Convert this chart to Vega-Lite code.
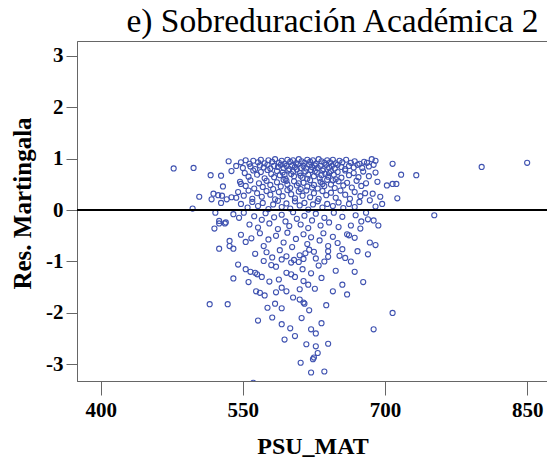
{
  "$schema": "https://vega.github.io/schema/vega-lite/v6.json",
  "width": 471,
  "height": 340,
  "autosize": {"type": "none"},
  "padding": {"left": 77, "top": 41, "right": 0, "bottom": 82},
  "background": "white",
  "title": {"text": "e) Sobreduración Académica 2", "font": "Liberation Serif", "fontSize": 33.5, "fontWeight": "normal", "color": "black", "anchor": "middle", "dx": 20, "offset": 2},
  "config": {"view": {"stroke": "#666666", "strokeWidth": 1}},
  "data": {"values": [
    {"psu": 535, "res": 0.95}, {"psu": 548, "res": 0.93}, {"psu": 553, "res": 0.97}, {"psu": 557, "res": 0.9}, {"psu": 561, "res": 0.96}, {"psu": 566, "res": 0.93}, {"psu": 569, "res": 0.98}, {"psu": 573, "res": 0.91}, {"psu": 577, "res": 0.97}, {"psu": 581, "res": 0.94}, {"psu": 584, "res": 0.99}, {"psu": 588, "res": 0.92}, {"psu": 591, "res": 0.96}, {"psu": 594, "res": 0.9}, {"psu": 597, "res": 0.98}, {"psu": 600, "res": 0.94}, {"psu": 603, "res": 0.97}, {"psu": 606, "res": 0.91}, {"psu": 609, "res": 0.99}, {"psu": 612, "res": 0.95}, {"psu": 615, "res": 0.92}, {"psu": 618, "res": 0.98}, {"psu": 621, "res": 0.94}, {"psu": 624, "res": 0.97}, {"psu": 627, "res": 0.9}, {"psu": 630, "res": 0.99}, {"psu": 633, "res": 0.95}, {"psu": 636, "res": 0.92}, {"psu": 639, "res": 0.97}, {"psu": 642, "res": 0.93}, {"psu": 645, "res": 0.98}, {"psu": 648, "res": 0.91}, {"psu": 652, "res": 0.96}, {"psu": 655, "res": 0.93}, {"psu": 659, "res": 0.98}, {"psu": 664, "res": 0.92}, {"psu": 668, "res": 0.95}, {"psu": 673, "res": 0.9}, {"psu": 678, "res": 0.94}, {"psu": 681, "res": 0.92}, {"psu": 686, "res": 0.99}, {"psu": 690, "res": 0.96},
    {"psu": 543, "res": 0.86}, {"psu": 550, "res": 0.82}, {"psu": 558, "res": 0.85}, {"psu": 563, "res": 0.8}, {"psu": 568, "res": 0.87}, {"psu": 572, "res": 0.83}, {"psu": 576, "res": 0.88}, {"psu": 579, "res": 0.81}, {"psu": 583, "res": 0.86}, {"psu": 587, "res": 0.84}, {"psu": 590, "res": 0.88}, {"psu": 593, "res": 0.82}, {"psu": 596, "res": 0.86}, {"psu": 599, "res": 0.8}, {"psu": 602, "res": 0.87}, {"psu": 605, "res": 0.84}, {"psu": 608, "res": 0.89}, {"psu": 611, "res": 0.82}, {"psu": 614, "res": 0.86}, {"psu": 617, "res": 0.81}, {"psu": 620, "res": 0.88}, {"psu": 623, "res": 0.84}, {"psu": 626, "res": 0.87}, {"psu": 629, "res": 0.82}, {"psu": 632, "res": 0.86}, {"psu": 635, "res": 0.8}, {"psu": 638, "res": 0.88}, {"psu": 641, "res": 0.83}, {"psu": 644, "res": 0.86}, {"psu": 647, "res": 0.81}, {"psu": 650, "res": 0.88}, {"psu": 654, "res": 0.84}, {"psu": 658, "res": 0.8}, {"psu": 662, "res": 0.86}, {"psu": 667, "res": 0.83}, {"psu": 671, "res": 0.88}, {"psu": 676, "res": 0.82}, {"psu": 683, "res": 0.85}, {"psu": 688, "res": 0.88},
    {"psu": 552, "res": 0.72}, {"psu": 556, "res": 0.65}, {"psu": 561, "res": 0.77}, {"psu": 565, "res": 0.69}, {"psu": 569, "res": 0.74}, {"psu": 573, "res": 0.62}, {"psu": 576, "res": 0.78}, {"psu": 580, "res": 0.7}, {"psu": 583, "res": 0.64}, {"psu": 586, "res": 0.76}, {"psu": 589, "res": 0.68}, {"psu": 592, "res": 0.73}, {"psu": 595, "res": 0.61}, {"psu": 598, "res": 0.77}, {"psu": 601, "res": 0.7}, {"psu": 604, "res": 0.66}, {"psu": 607, "res": 0.79}, {"psu": 610, "res": 0.72}, {"psu": 613, "res": 0.63}, {"psu": 616, "res": 0.75}, {"psu": 619, "res": 0.69}, {"psu": 622, "res": 0.78}, {"psu": 625, "res": 0.66}, {"psu": 628, "res": 0.73}, {"psu": 631, "res": 0.62}, {"psu": 634, "res": 0.77}, {"psu": 637, "res": 0.7}, {"psu": 640, "res": 0.65}, {"psu": 643, "res": 0.76}, {"psu": 646, "res": 0.69}, {"psu": 650, "res": 0.74}, {"psu": 654, "res": 0.63}, {"psu": 658, "res": 0.77}, {"psu": 662, "res": 0.68}, {"psu": 667, "res": 0.72}, {"psu": 672, "res": 0.64}, {"psu": 677, "res": 0.75}, {"psu": 683, "res": 0.66},
    {"psu": 594, "res": 0.69}, {"psu": 603, "res": 0.75}, {"psu": 611, "res": 0.67}, {"psu": 618, "res": 0.61}, {"psu": 626, "res": 0.76}, {"psu": 633, "res": 0.68}, {"psu": 641, "res": 0.72}, {"psu": 648, "res": 0.6},
    {"psu": 547, "res": 0.55}, {"psu": 553, "res": 0.47}, {"psu": 558, "res": 0.58}, {"psu": 562, "res": 0.42}, {"psu": 567, "res": 0.52}, {"psu": 571, "res": 0.45}, {"psu": 575, "res": 0.57}, {"psu": 579, "res": 0.49}, {"psu": 582, "res": 0.41}, {"psu": 586, "res": 0.54}, {"psu": 590, "res": 0.46}, {"psu": 593, "res": 0.59}, {"psu": 597, "res": 0.5}, {"psu": 600, "res": 0.43}, {"psu": 604, "res": 0.56}, {"psu": 607, "res": 0.48}, {"psu": 611, "res": 0.41}, {"psu": 614, "res": 0.53}, {"psu": 618, "res": 0.46}, {"psu": 621, "res": 0.58}, {"psu": 625, "res": 0.49}, {"psu": 629, "res": 0.42}, {"psu": 632, "res": 0.55}, {"psu": 636, "res": 0.47}, {"psu": 639, "res": 0.59}, {"psu": 643, "res": 0.5}, {"psu": 647, "res": 0.43}, {"psu": 651, "res": 0.56}, {"psu": 656, "res": 0.48}, {"psu": 660, "res": 0.53}, {"psu": 665, "res": 0.44}, {"psu": 670, "res": 0.57}, {"psu": 675, "res": 0.47}, {"psu": 680, "res": 0.52}, {"psu": 692, "res": 0.55},
    {"psu": 596, "res": 0.57}, {"psu": 609, "res": 0.52}, {"psu": 623, "res": 0.44}, {"psu": 634, "res": 0.51}, {"psu": 645, "res": 0.58},
    {"psu": 545, "res": 0.35}, {"psu": 551, "res": 0.28}, {"psu": 556, "res": 0.38}, {"psu": 560, "res": 0.22}, {"psu": 565, "res": 0.33}, {"psu": 570, "res": 0.26}, {"psu": 575, "res": 0.37}, {"psu": 579, "res": 0.3}, {"psu": 584, "res": 0.21}, {"psu": 588, "res": 0.35}, {"psu": 592, "res": 0.27}, {"psu": 597, "res": 0.39}, {"psu": 601, "res": 0.31}, {"psu": 605, "res": 0.23}, {"psu": 609, "res": 0.36}, {"psu": 613, "res": 0.28}, {"psu": 617, "res": 0.38}, {"psu": 621, "res": 0.25}, {"psu": 625, "res": 0.33}, {"psu": 630, "res": 0.22}, {"psu": 634, "res": 0.37}, {"psu": 638, "res": 0.29}, {"psu": 643, "res": 0.34}, {"psu": 648, "res": 0.24}, {"psu": 653, "res": 0.38}, {"psu": 658, "res": 0.3}, {"psu": 663, "res": 0.22}, {"psu": 668, "res": 0.35}, {"psu": 674, "res": 0.27}, {"psu": 679, "res": 0.33}, {"psu": 695, "res": 0.26},
    {"psu": 548, "res": 0.12}, {"psu": 555, "res": 0.05}, {"psu": 560, "res": 0.16}, {"psu": 566, "res": 0.08}, {"psu": 571, "res": 0.14}, {"psu": 577, "res": 0.02}, {"psu": 582, "res": 0.11}, {"psu": 587, "res": 0.18}, {"psu": 591, "res": 0.06}, {"psu": 596, "res": 0.13}, {"psu": 600, "res": 0.03}, {"psu": 605, "res": 0.17}, {"psu": 610, "res": 0.09}, {"psu": 615, "res": 0.14}, {"psu": 619, "res": 0.01}, {"psu": 624, "res": 0.11}, {"psu": 629, "res": 0.17}, {"psu": 634, "res": 0.05}, {"psu": 639, "res": 0.12}, {"psu": 645, "res": 0.08}, {"psu": 651, "res": 0.15}, {"psu": 656, "res": 0.04}, {"psu": 662, "res": 0.12}, {"psu": 668, "res": 0.06}, {"psu": 673, "res": 0.16}, {"psu": 697, "res": 0.12},
    {"psu": 540, "res": -0.08}, {"psu": 546, "res": -0.15}, {"psu": 551, "res": -0.05}, {"psu": 557, "res": -0.28}, {"psu": 562, "res": -0.12}, {"psu": 566, "res": -0.34}, {"psu": 570, "res": -0.19}, {"psu": 574, "res": -0.06}, {"psu": 578, "res": -0.26}, {"psu": 583, "res": -0.14}, {"psu": 587, "res": -0.37}, {"psu": 591, "res": -0.09}, {"psu": 595, "res": -0.22}, {"psu": 599, "res": -0.31}, {"psu": 603, "res": -0.04}, {"psu": 607, "res": -0.17}, {"psu": 611, "res": -0.28}, {"psu": 615, "res": -0.11}, {"psu": 619, "res": -0.35}, {"psu": 623, "res": -0.2}, {"psu": 627, "res": -0.07}, {"psu": 632, "res": -0.3}, {"psu": 636, "res": -0.15}, {"psu": 641, "res": -0.24}, {"psu": 646, "res": -0.05}, {"psu": 651, "res": -0.33}, {"psu": 655, "res": -0.13}, {"psu": 669, "res": -0.1}, {"psu": 675, "res": -0.22}, {"psu": 693, "res": -0.3},
    {"psu": 548, "res": -0.48}, {"psu": 553, "res": -0.62}, {"psu": 559, "res": -0.55}, {"psu": 563, "res": -0.85}, {"psu": 568, "res": -0.45}, {"psu": 572, "res": -0.7}, {"psu": 577, "res": -0.57}, {"psu": 581, "res": -0.92}, {"psu": 585, "res": -0.5}, {"psu": 589, "res": -0.78}, {"psu": 593, "res": -0.63}, {"psu": 597, "res": -0.44}, {"psu": 602, "res": -0.72}, {"psu": 606, "res": -0.56}, {"psu": 610, "res": -0.88}, {"psu": 614, "res": -0.47}, {"psu": 618, "res": -0.66}, {"psu": 622, "res": -0.53}, {"psu": 627, "res": -0.94}, {"psu": 631, "res": -0.59}, {"psu": 635, "res": -0.45}, {"psu": 640, "res": -0.7}, {"psu": 645, "res": -0.52}, {"psu": 650, "res": -0.64}, {"psu": 655, "res": -0.76}, {"psu": 658, "res": -0.93}, {"psu": 575, "res": -0.82}, {"psu": 596, "res": -0.9}, {"psu": 620, "res": -0.77}, {"psu": 604, "res": -0.97},
    {"psu": 556, "res": -1.4}, {"psu": 570, "res": -1.3}, {"psu": 585, "res": -1.1}, {"psu": 588, "res": -1.35}, {"psu": 605, "res": -1.3}, {"psu": 630, "res": -1.08}, {"psu": 633, "res": -1.32}, {"psu": 648, "res": -1.18}, {"psu": 655, "res": -1.45}, {"psu": 603, "res": -1.7}, {"psu": 576, "res": -1.9}, {"psu": 620, "res": -1.95}, {"psu": 638, "res": -1.85}, {"psu": 668, "res": -1.2}, {"psu": 585, "res": -1.6},
    {"psu": 566, "res": -2.15}, {"psu": 600, "res": -2.3}, {"psu": 612, "res": -2.1}, {"psu": 633, "res": -2.2}, {"psu": 605, "res": -2.45}, {"psu": 629, "res": -2.78},
    {"psu": 477, "res": 0.81}, {"psu": 498, "res": 0.82}, {"psu": 516, "res": 0.68}, {"psu": 527, "res": 0.67}, {"psu": 538, "res": 0.76}, {"psu": 529, "res": 0.46}, {"psu": 548, "res": 0.51}, {"psu": 504, "res": 0.26}, {"psu": 497, "res": 0.03}, {"psu": 519, "res": 0.32}, {"psu": 524, "res": 0.29}, {"psu": 528, "res": 0.28}, {"psu": 517, "res": 0.21}, {"psu": 527, "res": 0.14}, {"psu": 533, "res": 0.21}, {"psu": 538, "res": 0.25}, {"psu": 543, "res": 0.24}, {"psu": 521, "res": -0.05}, {"psu": 525, "res": -0.21}, {"psu": 532, "res": -0.24}, {"psu": 520, "res": -0.36}, {"psu": 525, "res": -0.26}, {"psu": 531, "res": -0.26}, {"psu": 525, "res": -0.75}, {"psu": 536, "res": -0.6}, {"psu": 536, "res": -0.7}, {"psu": 540, "res": -0.75}, {"psu": 545, "res": -1.06}, {"psu": 540, "res": -1.33}, {"psu": 553, "res": -1.15}, {"psu": 558, "res": -1.2}, {"psu": 563, "res": -1.22}, {"psu": 565, "res": -1.25}, {"psu": 564, "res": -1.58}, {"psu": 568, "res": -1.61}, {"psu": 573, "res": -1.66}, {"psu": 578, "res": -1.39}, {"psu": 580, "res": -1.07}, {"psu": 572, "res": -0.99}, {"psu": 591, "res": -1.51}, {"psu": 596, "res": -1.58}, {"psu": 596, "res": -1.22}, {"psu": 601, "res": -1.25}, {"psu": 591, "res": -0.96}, {"psu": 601, "res": -1.02},
    {"psu": 708, "res": 0.9}, {"psu": 717, "res": 0.69}, {"psu": 733, "res": 0.68}, {"psu": 702, "res": 0.48}, {"psu": 708, "res": 0.51}, {"psu": 712, "res": 0.51}, {"psu": 713, "res": 0.23}, {"psu": 752, "res": -0.1}, {"psu": 690, "res": 0.73}, {"psu": 687, "res": 0.32}, {"psu": 690, "res": 0.07}, {"psu": 684, "res": 0.19}, {"psu": 682, "res": -0.18}, {"psu": 688, "res": -0.2}, {"psu": 680, "res": -0.05}, {"psu": 802, "res": 0.84}, {"psu": 850, "res": 0.92},
    {"psu": 664, "res": -0.3}, {"psu": 674, "res": -0.36}, {"psu": 660, "res": -0.47}, {"psu": 662, "res": -0.49}, {"psu": 668, "res": -0.54}, {"psu": 684, "res": -0.63}, {"psu": 690, "res": -0.68}, {"psu": 671, "res": -0.8}, {"psu": 682, "res": -0.86}, {"psu": 664, "res": -1.0}, {"psu": 652, "res": -0.89}, {"psu": 677, "res": -1.4}, {"psu": 645, "res": -1.58}, {"psu": 660, "res": -1.64}, {"psu": 640, "res": -0.8}, {"psu": 640, "res": -0.91}, {"psu": 636, "res": -1.0}, {"psu": 625, "res": -0.81}, {"psu": 616, "res": -0.84}, {"psu": 614, "res": -0.95}, {"psu": 609, "res": -1.01}, {"psu": 613, "res": -1.15}, {"psu": 622, "res": -1.23}, {"psu": 614, "res": -1.38}, {"psu": 619, "res": -1.45}, {"psu": 626, "res": -1.53}, {"psu": 610, "res": -1.54},
    {"psu": 515, "res": -1.83}, {"psu": 534, "res": -1.83}, {"psu": 584, "res": -1.82}, {"psu": 591, "res": -1.91}, {"psu": 581, "res": -2.09}, {"psu": 591, "res": -2.22}, {"psu": 594, "res": -2.52}, {"psu": 611, "res": -2.97}, {"psu": 561, "res": -3.36}, {"psu": 610, "res": -1.74}, {"psu": 614, "res": -1.8}, {"psu": 615, "res": -1.82}, {"psu": 708, "res": -2.0}, {"psu": 688, "res": -2.32}, {"psu": 622, "res": -2.32}, {"psu": 627, "res": -2.4}, {"psu": 617, "res": -2.61}, {"psu": 627, "res": -2.65}, {"psu": 640, "res": -2.6}, {"psu": 625, "res": -2.87}, {"psu": 622, "res": -3.16}, {"psu": 636, "res": -3.14}, {"psu": 624, "res": -2.9}
  ]},
  "layer": [
    {
      "mark": {"type": "point", "shape": "circle", "filled": false, "color": "#3f52b0", "strokeWidth": 1.1, "size": 26, "opacity": 1, "clip": true},
      "encoding": {
        "x": {"field": "psu", "type": "quantitative", "scale": {"domain": [375, 872], "nice": false, "zero": false},
          "axis": {"title": "PSU_MAT", "values": [400, 550, 700, 850], "grid": false, "domainColor": "#666666", "tickColor": "#666666", "tickSize": 14, "labelPadding": 4, "labelFont": "Liberation Serif", "labelFontWeight": "bold", "labelFontSize": 21, "labelColor": "black", "titleFont": "Liberation Serif", "titleFontWeight": "bold", "titleFontSize": 24, "titleColor": "black", "titlePadding": 14}},
        "y": {"field": "res", "type": "quantitative", "scale": {"domain": [-3.325, 3.29], "nice": false, "zero": false},
          "axis": {"title": "Res. Martingala", "titleY": 162, "values": [-3, -2, -1, 0, 1, 2, 3], "labelExpr": "datum.value < 0 ? '-' + abs(datum.value) : '' + datum.value", "grid": false, "domainColor": "#666666", "tickColor": "#666666", "tickSize": 11, "labelPadding": 3, "labelFont": "Liberation Serif", "labelFontWeight": "bold", "labelFontSize": 21, "labelColor": "black", "titleFont": "Liberation Serif", "titleFontWeight": "bold", "titleFontSize": 25, "titleColor": "black", "titlePadding": 10}}
      }
    },
    {
      "mark": {"type": "rule", "color": "black", "strokeWidth": 1.3},
      "encoding": {"y": {"datum": 0}}
    }
  ]
}
